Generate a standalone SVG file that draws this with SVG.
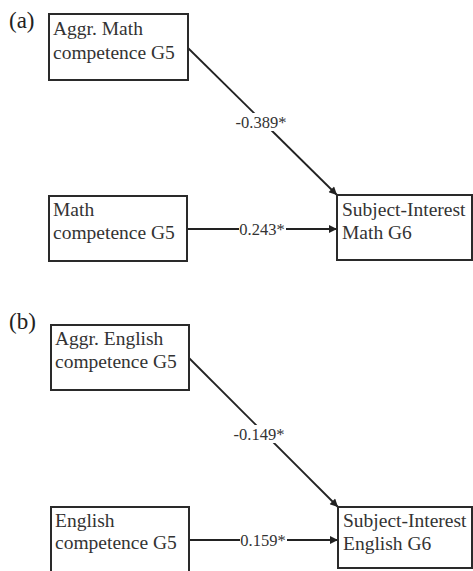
<svg xmlns="http://www.w3.org/2000/svg" width="473" height="571" viewBox="0 0 473 571">
<style>
.box{fill:#fff;stroke:#2a2a2a;stroke-width:2}
.t{font-family:"Liberation Serif",serif;font-size:19.5px;fill:#333}
.pl{font-family:"Liberation Serif",serif;font-size:23px;fill:#222}
.lab{font-family:"Liberation Serif",serif;font-size:16.5px;fill:#333;text-anchor:middle}
.edge{stroke:#222;stroke-width:1.8;fill:none;marker-end:url(#arr)}
.bg{fill:#fff}
</style>
<defs>
<marker id="arr" viewBox="0 0 10 10" refX="10" refY="5" markerWidth="9" markerHeight="8" markerUnits="userSpaceOnUse" orient="auto">
<path d="M0,0 L10,5 L0,10 z" fill="#222"/>
</marker>
</defs>
<rect width="473" height="571" fill="#fff"/>
<text class="pl" x="9" y="28">(a)</text>
<text class="pl" x="9" y="329">(b)</text>
<g id="edges">
<line class="edge" x1="188" y1="48" x2="337" y2="195"/>
<rect class="bg" x="233" y="113" width="54" height="18"/>
<text class="lab" x="261" y="128">-0.389*</text>
<line class="edge" x1="187" y1="229" x2="337" y2="229"/>
<rect class="bg" x="239" y="220" width="47" height="18"/>
<text class="lab" x="262" y="235">0.243*</text>
<line class="edge" x1="189" y1="358" x2="338" y2="507"/>
<rect class="bg" x="233" y="425" width="52" height="18"/>
<text class="lab" x="259" y="440">-0.149*</text>
<line class="edge" x1="189" y1="540" x2="338" y2="540"/>
<rect class="bg" x="240" y="531" width="47" height="18"/>
<text class="lab" x="263" y="546">0.159*</text>
</g>
<g id="aggr-math">
<rect class="box" x="49" y="14" width="139" height="66"/>
<text class="t" x="53" y="35">Aggr. Math</text>
<text class="t" x="53" y="59">competence G5</text>
</g>
<g id="math-comp">
<rect class="box" x="49" y="196" width="138" height="65"/>
<text class="t" x="53" y="216">Math</text>
<text class="t" x="53" y="239">competence G5</text>
</g>
<g id="interest-math">
<rect class="box" x="337" y="195" width="135" height="65"/>
<text class="t" x="342" y="216">Subject-Interest</text>
<text class="t" x="342" y="239">Math G6</text>
</g>
<g id="aggr-english">
<rect class="box" x="51" y="325" width="138" height="65"/>
<text class="t" x="55" y="345">Aggr. English</text>
<text class="t" x="55" y="368">competence G5</text>
</g>
<g id="english-comp">
<rect class="box" x="51" y="507" width="138" height="65"/>
<text class="t" x="55" y="527">English</text>
<text class="t" x="55" y="549">competence G5</text>
</g>
<g id="interest-english">
<rect class="box" x="338" y="507" width="134" height="61"/>
<text class="t" x="343" y="527">Subject-Interest</text>
<text class="t" x="343" y="550">English G6</text>
</g>
</svg>
